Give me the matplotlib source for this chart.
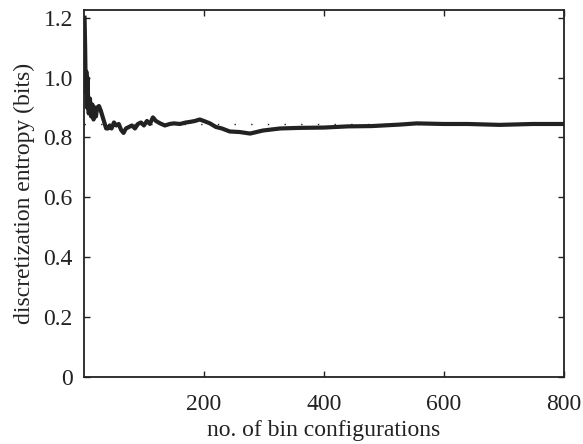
import matplotlib
matplotlib.use("Agg")
import matplotlib.pyplot as plt

configs = [1, 2, 3, 4, 5, 6, 7, 8, 10, 12, 14, 16, 18, 20, 22, 25, 28, 31, 34, 37,
           40, 43, 46, 50, 54, 58, 62, 66, 70, 75, 80, 85, 90, 95, 100, 105, 110,
           115, 120, 127, 135, 143, 150, 160, 170, 177, 185, 193, 200, 210, 220,
           230, 243, 260, 277, 298, 327, 360, 400, 440, 480, 527, 555, 600, 640,
           693, 748, 800]
entropy = [1.20, 1.10, 0.95, 1.02, 0.90, 1.00, 0.92, 0.88, 0.93, 0.87, 0.91, 0.86,
           0.90, 0.87, 0.90, 0.905, 0.89, 0.87, 0.85, 0.83, 0.83, 0.84, 0.83, 0.85,
           0.84, 0.845, 0.825, 0.815, 0.83, 0.835, 0.84, 0.83, 0.845, 0.85, 0.84,
           0.855, 0.845, 0.867, 0.855, 0.847, 0.84, 0.845, 0.847, 0.845, 0.85,
           0.852, 0.855, 0.86, 0.855, 0.847, 0.835, 0.83, 0.82, 0.818, 0.813,
           0.823, 0.83, 0.832, 0.833, 0.837, 0.838, 0.843, 0.847, 0.845, 0.845,
           0.842, 0.845, 0.845]
reference_level = 0.846

xticks = [200, 400, 600, 800]
yticks = [0, 0.2, 0.4, 0.6, 0.8, 1.0, 1.2]
ytick_labels = ["0", "0.2", "0.4", "0.6", "0.8", "1.0", "1.2"]

plt.rcParams['font.family'] = ['Liberation Serif', 'DejaVu Serif']
fig = plt.figure(figsize=(5.83, 4.44), dpi=100)
ax = fig.add_axes([0.144, 0.151, 0.823, 0.826])

ax.plot([0, 800], [reference_level, reference_level], color='#222222',
        lw=1.0, linestyle=(0, (1, 11)))
ax.plot(configs, entropy, color='#222222', lw=3.0, solid_joinstyle='round')

ax.set_xlim(0, 800)
ax.set_ylim(0, 1.225)
ax.set_xticks(xticks)
ax.set_xticklabels([str(t) for t in xticks])
ax.set_yticks(yticks)
ax.set_yticklabels(ytick_labels)
ax.tick_params(direction='in', length=4, width=1.0, top=True, right=True,
               labelsize=17, colors='#222222')
ax.tick_params(axis='x', pad=12)
ax.tick_params(axis='y', pad=8)
for s in ax.spines.values():
    s.set_linewidth(1.3)
    s.set_color('#222222')

ax.set_xlabel("no. of bin configurations", fontsize=17, color='#222222', labelpad=4)
ax.set_ylabel("discretization entropy (bits)", fontsize=17, color='#222222', labelpad=6)

fig.savefig("out.png", dpi=100)
